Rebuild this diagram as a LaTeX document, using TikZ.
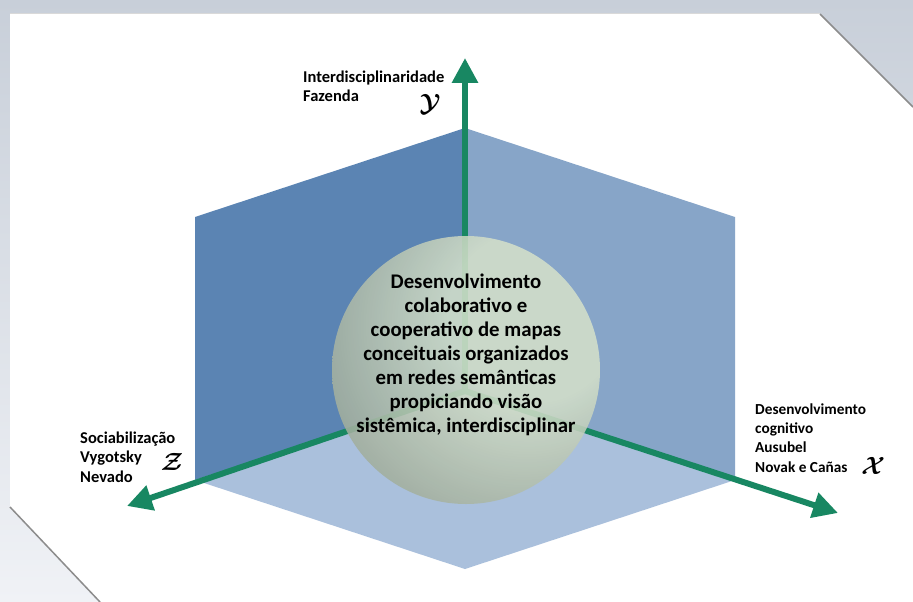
\documentclass[tikz,border=0pt]{standalone}
\usepackage{bm}
\usepackage{fontspec}
\setmainfont{Carlito}
\usetikzlibrary{arrows.meta,shapes}
\definecolor{leftface}{RGB}{91,132,179}
\definecolor{rightface}{RGB}{135,165,200}
\definecolor{bottomface}{RGB}{170,192,220}
\definecolor{axisgreen}{RGB}{24,135,98}
\definecolor{framegray}{RGB}{200,207,217}
\definecolor{framelight}{RGB}{240,242,246}
\definecolor{sphlt}{RGB}{212,224,202}
\definecolor{sphmd}{RGB}{160,172,155}
\definecolor{sphdk}{RGB}{100,112,100}
\pgfdeclareradialshading{sphereshade}{\pgfpoint{15bp}{12bp}}{color(0bp)=(sphlt); color(16bp)=(sphlt); color(38bp)=(sphmd); color(60bp)=(sphdk); color(100bp)=(sphdk)}
\tikzstyle{axis}=[draw,axisgreen,line width=6pt,-{Triangle[length=25pt,width=25pt]}]
\tikzstyle{label}=[font=\fontsize{16.5}{19.5}\selectfont\bfseries,align=left,inner sep=0pt]
\tikzstyle{smalllabel}=[font=\fontsize{15.3}{19.3}\selectfont\bfseries,align=left,inner sep=0pt]
\tikzstyle{axisname}=[font=\fontsize{28}{28}\selectfont,inner sep=0pt]
\tikzstyle{centertext}=[font=\fontsize{20.8}{24}\selectfont\bfseries,align=center,inner sep=0pt]

\begin{document}
\begin{tikzpicture}[x=1pt,y=-1pt]
	\useasboundingbox (0,0) rectangle (913,602);
	% frame
	\fill[top color=framegray,bottom color=framelight] (0,0) rectangle (913,602);
	\fill[white] (10,14) -- (820,14) -- (913,107) -- (913,602) -- (100,602) -- (10,507) -- cycle;
	\draw[black!45,line width=1.5pt] (820,14) -- (913,107);
	\draw[black!45,line width=1.5pt] (10,507) -- (100,602);
	\draw[black!15,line width=1pt] (10,14) -- (820,14);
	
	% cube corner
	\path (465,391) coordinate (O);
	\path (465,128) coordinate (A);
	\path (195,217) coordinate (TL);
	\path (735,217) coordinate (TR);
	\path (195,480) coordinate (BL);
	\path (735,480) coordinate (BR);
	\path (465,569) coordinate (B);
	\fill[leftface] (TL) -- (A) -- (O) -- (BL) -- cycle;
	\fill[rightface] (A) -- (TR) -- (BR) -- (O) -- cycle;
	\fill[bottomface] (O) -- (BR) -- (B) -- (BL) -- cycle;
	
	% axes
	\path (838,513) coordinate (X);
	\path (465,58) coordinate (Y);
	\path (127,506) coordinate (Z);
	\foreach \tip in {X,Y,Z}
	\path[axis] (O) -- (\tip);
	
	% sphere
	\path (466,370) coordinate (S);
	\shade[shading=sphereshade,opacity=0.87] (S) circle (134);
	\node[centertext, anchor=base] (core) at (466,432) {Desenvolvimento\\colaborativo e\\cooperativo de mapas\\conceituais organizados\\em redes semânticas\\propiciando visão\\sistêmica, interdisciplinar};
	
	% labels
	\node[label, anchor=base west] (ylab) at (303,102) {Interdisciplinaridade\\Fazenda};
	\node[label, anchor=base west] (zlab) at (80,482) {Sociabilização\\Vygotsky\\Nevado};
	\node[smalllabel, anchor=base west] (xlab) at (755,472) {Desenvolvimento\\cognitivo\\Ausubel\\Novak e Cañas};
	\node[axisname] (yname) at (430,104) {$\bm{\mathcal{Y}}$};
	\node[axisname] (zname) at (172,462) {$\bm{\mathcal{Z}}$};
	\node[axisname] (xname) at (873,466) {$\bm{\mathcal{X}}$};
\end{tikzpicture}
\end{document}
